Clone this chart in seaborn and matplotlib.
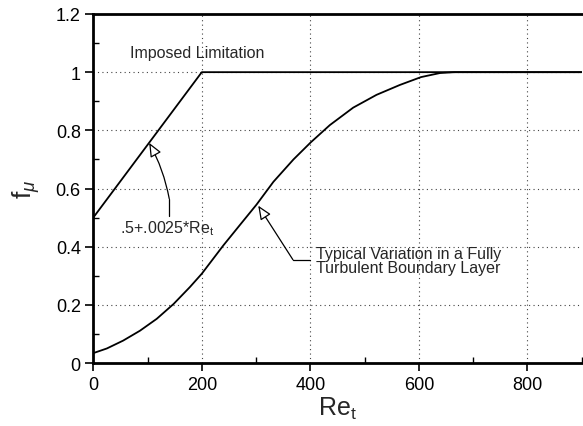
import numpy as np
import pandas as pd
import matplotlib
matplotlib.use("Agg")
import matplotlib.pyplot as plt
from matplotlib.ticker import MultipleLocator
import seaborn as sns

# Typical variation of f_mu across a fully turbulent boundary layer
re_typical = [0, 25, 55, 86, 117, 148, 178, 200, 240, 270, 301, 332, 369, 401,
              436, 479, 522, 565, 604, 639, 665, 900]
fmu_typical = [0.034, 0.050, 0.077, 0.111, 0.152, 0.203, 0.261, 0.307, 0.405, 0.474,
               0.545, 0.623, 0.700, 0.759, 0.818, 0.878, 0.922, 0.956, 0.983, 0.997,
               1.000, 1.000]

# Imposed limitation: f_mu = .5 + .0025*Re_t, capped at 1
re_limit = [0, 200, 900]
fmu_limit = [0.5, 1.0, 1.0]

x_ticks = [0, 200, 400, 600, 800]
y_ticks = [0, 0.2, 0.4, 0.6, 0.8, 1.0, 1.2]
y_tick_labels = ["0", "0.2", "0.4", "0.6", "0.8", "1", "1.2"]

sns.set_theme(style="ticks")
plt.rcParams["font.family"] = ["Liberation Sans", "DejaVu Sans"]
plt.rcParams["mathtext.fontset"] = "custom"
plt.rcParams["mathtext.rm"] = "Liberation Sans"
plt.rcParams["mathtext.it"] = "Liberation Sans:italic"

fig = plt.figure(figsize=(5.83, 4.27), dpi=100)
ax = fig.add_axes([0.160, 0.1475, 0.8376, 0.8174])

df_typ = pd.DataFrame({"Re": re_typical, "fmu": fmu_typical})
df_lim = pd.DataFrame({"Re": re_limit, "fmu": fmu_limit})
sns.lineplot(data=df_typ, x="Re", y="fmu", ax=ax, color="black", lw=1.3, zorder=3)
sns.lineplot(data=df_lim, x="Re", y="fmu", ax=ax, color="black", lw=1.3, zorder=3)

ax.set_xlim(0, 900)
ax.set_ylim(0, 1.2)
ax.set_xticks(x_ticks)
ax.set_yticks(y_ticks)
ax.set_yticklabels(y_tick_labels)
ax.xaxis.set_minor_locator(MultipleLocator(100))
ax.yaxis.set_minor_locator(MultipleLocator(0.1))
ax.tick_params(axis="both", which="major", direction="out", length=6, width=1.2,
               labelsize=13, color="black", labelcolor="black", pad=3)
ax.tick_params(axis="both", which="minor", direction="in", length=4, width=1.0, color="black")

ax.grid(True, which="major", color="#444444", linestyle=(0, (1, 3)), lw=0.8)
for side in ["left", "bottom", "top"]:
    ax.spines[side].set_linewidth(2.0)
    ax.spines[side].set_color("black")
ax.spines["right"].set_visible(False)

ax.set_xlabel("Re$_\\mathregular{t}$", fontsize=18, labelpad=2)
ax.set_ylabel("f$_{\\mu}$", fontsize=19, rotation=90, labelpad=10)

# annotations
ax.text(68, 1.069, "Imposed Limitation", fontsize=11.5, ha="left", va="center")

ax.text(49, 0.466, ".5+.0025*Re$_\\mathregular{t}$", fontsize=11.5, ha="left", va="center")
ax.plot([140, 140], [0.505, 0.565], color="black", lw=0.9)
ax.annotate("", xy=(103, 0.757), xytext=(140, 0.565),
            arrowprops=dict(arrowstyle="-|>,head_length=0.7,head_width=0.3", fc="white",
                            ec="black", lw=0.9, shrinkA=0, shrinkB=0,
                            connectionstyle="arc3,rad=0.08"))

ax.text(410, 0.352, "Typical Variation in a Fully\nTurbulent Boundary Layer", fontsize=11.5,
        ha="left", va="center", linespacing=0.95)
ax.plot([368, 399], [0.355, 0.355], color="black", lw=0.9)
ax.annotate("", xy=(304, 0.541), xytext=(368, 0.355),
            arrowprops=dict(arrowstyle="-|>,head_length=0.7,head_width=0.3", fc="white",
                            ec="black", lw=0.9, shrinkA=0, shrinkB=0))

fig.savefig("out.png", dpi=100)
